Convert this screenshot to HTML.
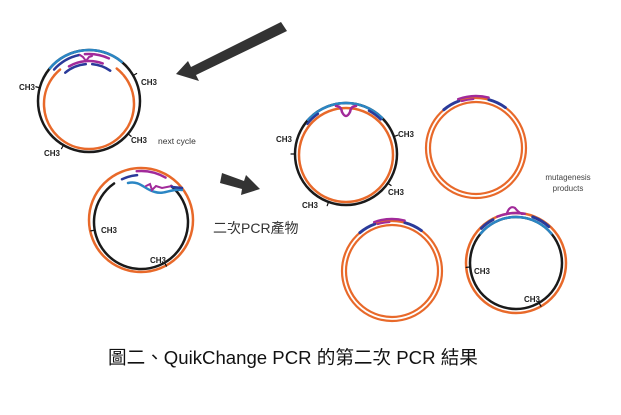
<!DOCTYPE html>
<html><head><meta charset="utf-8"><style>
body{margin:0;background:#fff;width:621px;height:415px;overflow:hidden}
svg{display:block}
.c{font-family:"Liberation Sans",sans-serif;font-size:8px;font-weight:bold;fill:#222}
</style></head><body>
<svg id="s" width="621" height="415" xmlns="http://www.w3.org/2000/svg">
<g id="g" fill="none" stroke-linecap="round"></g>
<polygon points="281,22 287,31 196,75 199,81 176,74 188,61 191,67" fill="#333"/>
<polygon points="222,173 244,181 246,175 260,189 241,195 242,189 220,183" fill="#333"/>
<text x="158" y="144" font-family="Liberation Sans,sans-serif" font-size="8.5" fill="#333">next cycle</text>
<text x="213" y="233" font-family="Liberation Sans,'Noto Sans CJK TC',sans-serif" font-size="14" fill="#333">二次PCR產物</text>
<text x="568" y="180" text-anchor="middle" font-family="Liberation Sans,sans-serif" font-size="8" fill="#444">mutagenesis</text>
<text x="568" y="191" text-anchor="middle" font-family="Liberation Sans,sans-serif" font-size="8" fill="#444">products</text>
<text x="108" y="364" font-family="Liberation Sans,'Noto Sans CJK TC',sans-serif" font-size="18.6" fill="#111">圖二、QuikChange PCR 的第二次 PCR 結果</text>
<g class="c">
<text x="19" y="90" class="c">CH3</text><text x="141" y="85" class="c">CH3</text>
<text x="131" y="143" class="c">CH3</text><text x="44" y="156" class="c">CH3</text>
<text x="101" y="233" class="c">CH3</text><text x="150" y="263" class="c">CH3</text>
<text x="276" y="142" class="c">CH3</text><text x="398" y="137" class="c">CH3</text>
<text x="388" y="195" class="c">CH3</text><text x="302" y="208" class="c">CH3</text>
<text x="474" y="274" class="c">CH3</text><text x="524" y="302" class="c">CH3</text>
</g>
</svg>
<script>
var g=document.getElementById('g');
function P(cx,cy,r,a){a=a*Math.PI/180;return [cx+r*Math.sin(a),cy-r*Math.cos(a)];}
function arc(cx,cy,r,a1,a2,col,w){var p=P(cx,cy,r,a1),q=P(cx,cy,r,a2);var l=(a2-a1)>180?1:0;
g.insertAdjacentHTML('beforeend','<path d="M'+p[0]+' '+p[1]+' A'+r+' '+r+' 0 '+l+' 1 '+q[0]+' '+q[1]+'" stroke="'+col+'" stroke-width="'+(w||2.5)+'"/>');}
function circ(cx,cy,r,col,w){g.insertAdjacentHTML('beforeend','<circle cx="'+cx+'" cy="'+cy+'" r="'+r+'" stroke="'+col+'" stroke-width="'+(w||2.5)+'"/>');}
function path(d,col,w){g.insertAdjacentHTML('beforeend','<path d="'+d+'" stroke="'+col+'" stroke-width="'+(w||2.5)+'"/>');}
function tick(cx,cy,r,a){var p=P(cx,cy,r,a),q=P(cx,cy,r+4,a);path('M'+p[0]+' '+p[1]+'L'+q[0]+' '+q[1],'#111',1.2);}
var O='#e8692a',K='#1a1a1a',B='#2b86c4',D='#2a3a9a',M='#a12a9a';
// A
circ(89,101,51,K);arc(89,104,45,50,310,O);arc(89,104,45,-50,-40,O);arc(89,104,45,38,48,O);
arc(89,101,51,-50,40,B);arc(89,101,47,-48,-12,D);arc(89,101,47,-5,25,M);
path('M80 55 L83 57 L86 61 L89 57 L92 56','#a12a9a',2);
arc(89,101,40,-30,20,M);arc(89,101,37,-40,-5,D);arc(89,101,37,5,35,D);
tick(89,101,51,-75);tick(89,101,51,60);tick(89,101,51,130);tick(89,101,51,-150);
// B
circ(141,220,52,O);arc(141,222,47,40,325,K);
arc(141,220,49,-5,30,M);arc(141,220,45,-25,-5,D);
path('M128 183 C140 180,145 190,155 192 C165 195,172 188,182 190',B,2.5);
path('M146 186 L150 184 L152 190 L156 186 L162 188 L172 186',M,2);path('M172 187 L182 188',D,2.5);
tick(141,222,47,-100);tick(141,222,47,150);
// C
circ(346,154,51,K);circ(346,155,47,O);
arc(346,154,51,-48,45,B);arc(346,154,49,-52,-35,D);arc(346,154,49,28,45,D);
path('M336 106 Q341 106 342 112 Q346 120 350 112 Q351 106 356 106',M,2.5);
tick(346,154,51,-90);tick(346,154,51,70);tick(346,154,51,125);tick(346,154,51,-160);
// D,E
[[476,148],[392,271]].forEach(function(c){circ(c[0],c[1],50,O,2.2);circ(c[0],c[1],46,O,2.2);
arc(c[0],c[1],50,-40,-20,D,3);arc(c[0],c[1],50,15,36,D,3);arc(c[0],c[1],52,-20,14,M,2.5);arc(c[0],c[1],49,-17,-3,M,2);});
// F
circ(516,263,50,O);circ(516,263,46,K);arc(516,263,46,-50,50,B);
arc(516,263,49,-45,-28,D,3);arc(516,263,49,20,42,D,3);arc(516,263,50,-22,10,M);
path('M507 213 Q510 205 515 208 Q518 212 522 214',M,2.2);
tick(516,263,46,-95);tick(516,263,46,150);
</script>
</body></html>
